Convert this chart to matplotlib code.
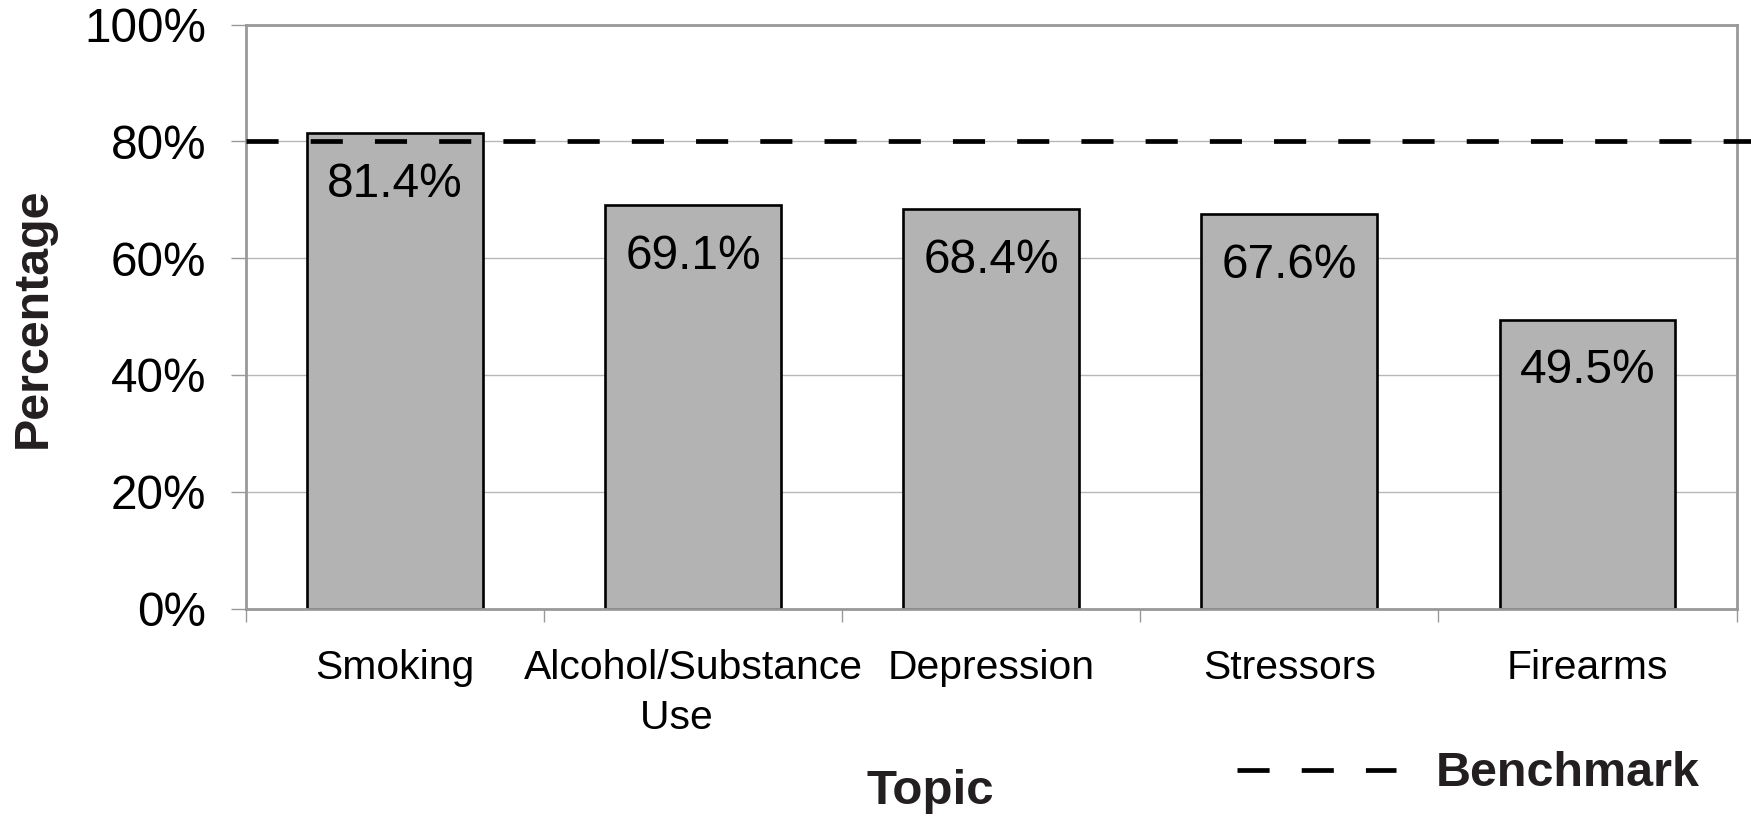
import matplotlib
matplotlib.use("Agg")
import matplotlib.pyplot as plt
from matplotlib.ticker import FixedLocator, PercentFormatter

categories = ["Smoking", "Alcohol/Substance\nUse   ", "Depression", "Stressors", "Firearms"]
values = [81.4, 69.1, 68.4, 67.6, 49.5]
value_labels = ["81.4%", "69.1%", "68.4%", "67.6%", "49.5%"]
benchmark = 80
yticks = [0, 20, 40, 60, 80, 100]

plt.rcParams['font.family'] = ['Liberation Sans', 'DejaVu Sans']

W, H = 1751, 816
fig = plt.figure(figsize=(W / 100, H / 100), dpi=100)
ax = fig.add_axes([246 / W, 1 - 608.6 / H, (1736.5 - 246) / W, (608.6 - 24.6) / H])

x = list(range(len(categories)))
ax.bar(x, values, width=0.59, color='#b3b3b3', edgecolor='black', linewidth=1.9, zorder=2)

for xi, v, lab in zip(x, values, value_labels):
    ax.annotate(lab, (xi, v), xytext=(0, -37), textcoords='offset points',
                ha='center', va='center', fontsize=34.4, color='black', zorder=4)

bl = ax.axhline(benchmark, xmin=0, xmax=1.01, color='black', linewidth=3.4,
                linestyle=(0, (6.8, 6.8)), clip_on=False, zorder=3)

ax.set_xlim(-0.5, len(categories) - 0.5)
ax.set_ylim(0, 100)
ax.set_yticks(yticks)
ax.yaxis.set_major_formatter(PercentFormatter(decimals=0))
ax.grid(axis='y', color='#b8b8b8', linewidth=1.0, zorder=0)
ax.set_axisbelow(True)

ax.set_xticks(x)
ax.set_xticklabels(categories, fontsize=29.4, linespacing=1.41)
ax.tick_params(axis='x', which='major', length=0, pad=29)
ax.xaxis.set_minor_locator(FixedLocator([i - 0.5 for i in range(len(categories) + 1)]))
ax.tick_params(axis='x', which='minor', length=9.5, width=1.0, color='#999999')
ax.tick_params(axis='y', which='major', length=10.8, width=1.0, color='#999999',
               labelsize=34.3, pad=18)

for s in ax.spines.values():
    s.set_color('#999999')
    s.set_linewidth(2.0)

fig.text(33.5 / W, 1 - 318 / H, "Percentage", rotation=90, ha='center', va='center',
         fontsize=34.8, fontweight='bold', color='#231f20')
fig.text(930 / W, 1 - 791 / H, "Topic", ha='center', va='center',
         fontsize=35.5, fontweight='bold', color='#231f20')

leg = fig.legend([bl], ["Benchmark"], loc='center left',
                 bbox_to_anchor=(1237 / W, 1 - 774 / H), frameon=False,
                 prop={'size': 34.9, 'weight': 'bold'}, handlelength=3.28,
                 handletextpad=0.82, borderpad=0, borderaxespad=0)
for t in leg.get_texts():
    t.set_color('#231f20')

fig.savefig("out.png", dpi=100)
